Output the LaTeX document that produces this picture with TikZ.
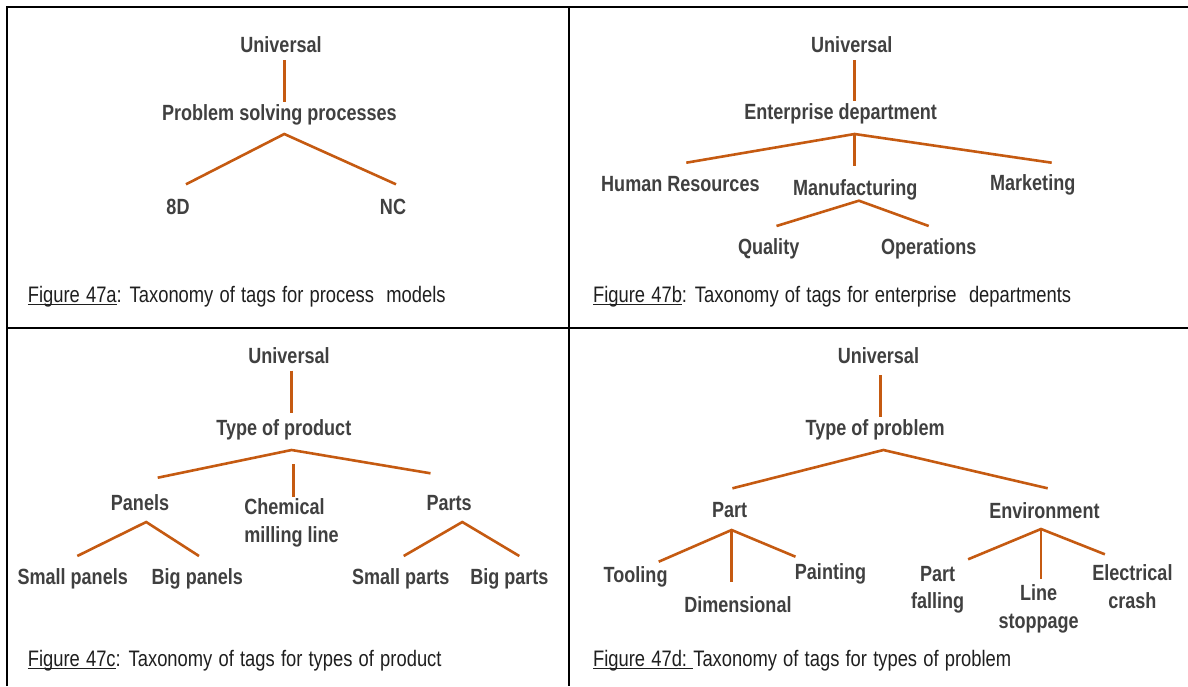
\documentclass[tikz,border=0pt]{standalone}
\usepackage{fontspec}
\setmainfont{Liberation Sans}[FakeStretch=0.82]
\usetikzlibrary{positioning}
\definecolor{rust}{HTML}{C55A11}
\definecolor{tagink}{HTML}{404040}
\definecolor{capink}{HTML}{1F1F1F}
\newcommand\figref[1]{\setbox0\hbox{#1}\rlap{\rule[-2.6pt]{\wd0}{1.1pt}}\box0}
\newcommand\capspace{\spaceskip=6.2pt plus 1pt\relax}
\tikzset{tag/.style={font=\bfseries\fontsize{22}{27.5}\selectfont,text=tagink,inner sep=0pt,align=center},
 taglink/.style={draw=rust,line width=2.6pt},
 caption/.style={font=\fontsize{22.4}{27}\selectfont\capspace,text=capink,anchor=west,inner sep=0pt},
 gridline/.style={draw=black,line width=2pt}}

\begin{document}
\begin{tikzpicture}[x=1pt,y=-1pt]
\useasboundingbox (0,0) rectangle (1188,686);
\fill[white] (0,0) rectangle (1188,686);
% table rules
\draw[gridline] (7,686)--(7,6.5)--(1188,6.5);
\draw[gridline] (7,328)--(1188,328);
\draw[gridline] (569,6.5)--(569,686);
% (a) process models
\node[tag] (ua) at (281,44.5) {Universal};
\node[tag] (psp) at (279.4,114.5) {Problem solving processes};
\node[tag] (d8) at (178,207) {8D};
\node[tag] (nc) at (393,207) {NC};
\coordinate (a0) at (284.3,60); \coordinate (a1) at (284.3,101.7);
\coordinate (a2) at (284.3,134); \coordinate (a3) at (186,184.3); \coordinate (a4) at (396,184.3);
\draw[taglink] (a0)--(a1); \draw[taglink] (a3)--(a2)--(a4);
\node[caption] (capa) at (27.6,297) {\figref{Figure 47a}: Taxonomy of tags for process\ \ models};
% (b) enterprise departments
\node[tag] (ub) at (851.8,44.5) {Universal};
\node[tag] (ent) at (840.6,114) {Enterprise department};
\node[tag] (hr) at (680.4,184.5) {Human Resources};
\node[tag] (mf) at (855.2,189.5) {Manufacturing};
\node[tag] (mk) at (1032.7,184.5) {Marketing};
\node[tag] (ql) at (768.7,248.5) {Quality};
\node[tag] (op) at (928.7,248.5) {Operations};
\coordinate (b0) at (854.6,60); \coordinate (b1) at (854.6,100.7);
\coordinate (b2) at (854.6,134); \coordinate (b3) at (686.3,162.7); \coordinate (b4) at (1051.7,162.7); \coordinate (b5) at (854.6,165.7);
\coordinate (b6) at (858.9,200.7); \coordinate (b7) at (776.5,226); \coordinate (b8) at (928.7,226);
\draw[taglink] (b0)--(b1); \draw[taglink] (b3)--(b2)--(b4); \draw[taglink] (b2)--(b5);
\draw[taglink] (b7)--(b6)--(b8);
\node[caption] (capb) at (592.9,296.5) {\figref{Figure 47b}: Taxonomy of tags for enterprise\ \ departments};
% (c) types of product
\node[tag] (uc) at (289,356) {Universal};
\node[tag] (tpd) at (283.8,429.5) {Type of product};
\node[tag] (pn) at (140,503) {Panels};
\node[tag,align=left,anchor=west] (cm) at (244.2,523) {Chemical\\milling line};
\node[tag] (pt) at (449.1,503) {Parts};
\node[tag] (spn) at (72.7,579) {Small panels};
\node[tag] (bpn) at (197.3,579) {Big panels};
\node[tag] (spt) at (400.7,579) {Small parts};
\node[tag] (bpt) at (509.4,579) {Big parts};
\coordinate (c0) at (291.6,370.7); \coordinate (c1) at (291.6,412.7);
\coordinate (c2) at (291.6,450); \coordinate (c3) at (157.7,477.7); \coordinate (c4) at (430.5,473.3);
\coordinate (c5) at (293.5,464); \coordinate (c6) at (293.5,496.7);
\coordinate (c7) at (146.2,522); \coordinate (c8) at (77.3,556); \coordinate (c9) at (199,556);
\coordinate (c10) at (462.3,522); \coordinate (c11) at (403.7,556); \coordinate (c12) at (519.3,556);
\draw[taglink] (c0)--(c1); \draw[taglink] (c3)--(c2)--(c4); \draw[taglink] (c5)--(c6);
\draw[taglink] (c8)--(c7)--(c9); \draw[taglink] (c11)--(c10)--(c12);
\node[caption] (capc) at (27.6,661) {\figref{Figure 47c}: Taxonomy of tags for types of product};
% (d) types of problem
\node[tag] (ud) at (878.4,356) {Universal};
\node[tag] (tpb) at (875.1,429.5) {Type of problem};
\node[tag] (prt) at (729.6,510.5) {Part};
\node[tag] (env) at (1044.4,510.5) {Environment};
\node[tag] (tl) at (635.6,577) {Tooling};
\node[tag] (dm) at (737.9,604.5) {Dimensional};
\node[tag] (pa) at (830.5,574) {Painting};
\node[tag] (pf) at (937.6,590) {Part\\falling};
\node[tag] (ls) at (1038.6,609) {Line\\stoppage};
\node[tag] (ec) at (1132.4,586.5) {Electrical\\crash};
\coordinate (d0) at (880.2,375); \coordinate (d1) at (880.2,416.7);
\coordinate (d2) at (883.4,450); \coordinate (d3) at (732.4,488.3); \coordinate (d4) at (1047.7,488.3);
\coordinate (d5) at (731.6,530); \coordinate (d6) at (658.7,561.7); \coordinate (d7) at (795.5,556.7); \coordinate (d8) at (731.6,581.7);
\coordinate (d9) at (1041,529); \coordinate (d10) at (968.1,559.3); \coordinate (d11) at (1104.9,554.3); \coordinate (d12) at (1041,579.3);
\draw[taglink] (d0)--(d1); \draw[taglink] (d3)--(d2)--(d4);
\draw[taglink] (d6)--(d5)--(d7); \draw[taglink] (d5)--(d8);
\draw[taglink] (d10)--(d9)--(d11); \draw[taglink] (d9)--(d12);
\node[caption] (capd) at (592.9,661) {\figref{Figure 47d:\ }Taxonomy of tags for types of problem};
\end{tikzpicture}
\end{document}
